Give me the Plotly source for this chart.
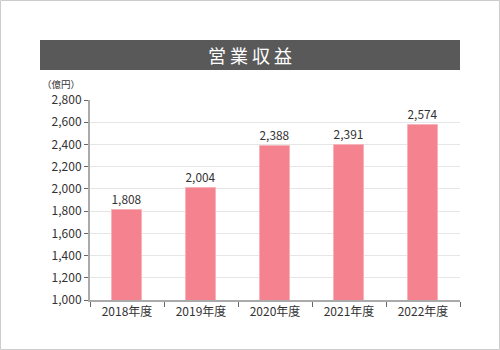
import plotly.graph_objects as go

categories = ["2018年度", "2019年度", "2020年度", "2021年度", "2022年度"]
values = [1808, 2004, 2388, 2391, 2574]
y_ticks = [1000, 1200, 1400, 1600, 1800, 2000, 2200, 2400, 2600, 2800]
title_text = "営 業 収 益"
unit_text = "（億円）"

FONT = "Noto Sans CJK JP"

fig = go.Figure()
fig.add_trace(go.Bar(
    x=categories, y=values,
    width=0.41,
    marker=dict(color="#F5838F", line=dict(color="#F8B3BA", width=1)),
    text=[f"{v:,}" for v in values],
    textposition="outside",
    textfont=dict(family=FONT, size=12, color="#333333"),
    cliponaxis=False,
))

L, R, T, B = 90, 460, 100, 300
W, H = R - L, B - T
def px(x): return (x - L) / W
def py(y): return (B - y) / H

fig.update_layout(
    width=500, height=350,
    margin=dict(l=L, r=500 - R, t=T, b=350 - B),
    paper_bgcolor="white", plot_bgcolor="white",
    showlegend=False,
    font=dict(family=FONT, size=12, color="#333333"),
    bargap=0,
    xaxis=dict(
        type="category", tickson="boundaries",
        ticks="outside", ticklen=5, tickcolor="#666666", tickwidth=1,
        showline=True, linecolor="#AAAAAA", linewidth=2,
        showgrid=False,
        tickfont=dict(family=FONT, size=12, color="#333333"),
    ),
    yaxis=dict(
        range=[1000, 2800], tickvals=y_ticks,
        ticktext=[f"{v:,}" for v in y_ticks],
        ticks="outside", ticklen=4, tickcolor="#666666", tickwidth=1,
        showline=True, linecolor="#AAAAAA", linewidth=2,
        showgrid=True, gridcolor="#E6E6E6", gridwidth=1,
        zeroline=False,
        tickfont=dict(family=FONT, size=12, color="#333333"),
    ),
    shapes=[
        dict(type="rect", xref="paper", yref="paper",
             x0=px(0.5), x1=px(499.5), y0=py(349.5), y1=py(0.5),
             line=dict(color="#CCCCCC", width=1), fillcolor="rgba(0,0,0,0)", layer="below"),
        dict(type="rect", xref="paper", yref="paper",
             x0=px(40), x1=px(460), y0=py(70), y1=py(40),
             line=dict(width=0), fillcolor="#595959"),
    ],
    annotations=[
        dict(text=title_text, xref="paper", yref="paper", x=px(250), y=py(55),
             xanchor="center", yanchor="middle", showarrow=False,
             font=dict(family=FONT, size=18, color="white")),
        dict(text=unit_text, xref="paper", yref="paper", x=px(81), y=py(84),
             xanchor="right", yanchor="middle", showarrow=False, borderpad=0,
             font=dict(family=FONT, size=9.5, color="#333333")),
    ],
)

fig.write_html("out.html")
